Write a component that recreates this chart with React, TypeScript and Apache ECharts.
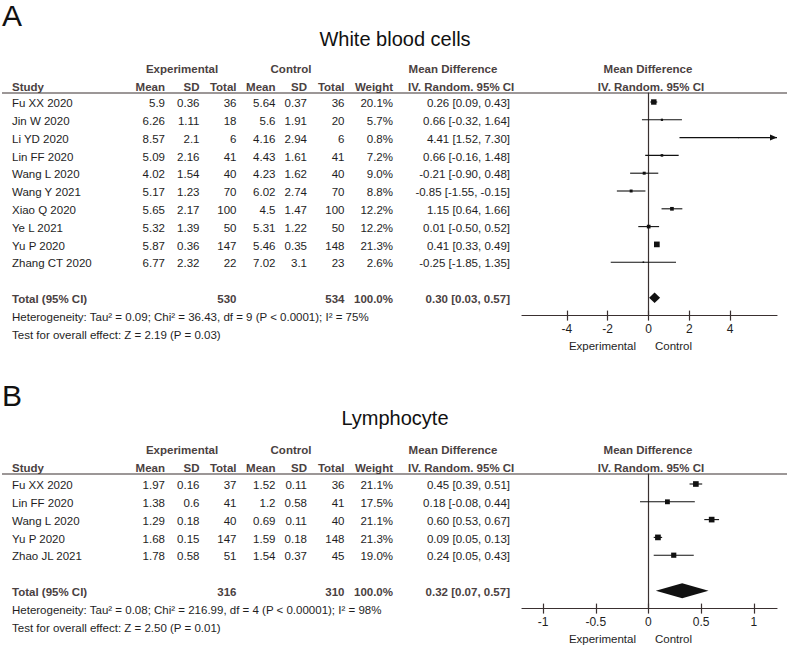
import React, { useEffect, useRef } from "react";
import * as echarts from "echarts";

// ---------- Data: panel A (White blood cells) ----------
const studiesA = ["Fu XX 2020", "Jin W 2020", "Li YD 2020", "Lin FF 2020", "Wang L 2020", "Wang Y 2021", "Xiao Q 2020", "Ye L 2021", "Yu P 2020", "Zhang CT 2020"];
const expMeanA = [5.9, 6.26, 8.57, 5.09, 4.02, 5.17, 5.65, 5.32, 5.87, 6.77];
const expSdA = [0.36, 1.11, 2.1, 2.16, 1.54, 1.23, 2.17, 1.39, 0.36, 2.32];
const expTotalA = [36, 18, 6, 41, 40, 70, 100, 50, 147, 22];
const ctlMeanA = [5.64, 5.6, 4.16, 4.43, 4.23, 6.02, 4.5, 5.31, 5.46, 7.02];
const ctlSdA = [0.37, 1.91, 2.94, 1.61, 1.62, 2.74, 1.47, 1.22, 0.35, 3.1];
const ctlTotalA = [36, 20, 6, 41, 40, 70, 100, 50, 148, 23];
const weightA = [20.1, 5.7, 0.8, 7.2, 9.0, 8.8, 12.2, 12.2, 21.3, 2.6];
const mdA = [0.26, 0.66, 4.41, 0.66, -0.21, -0.85, 1.15, 0.01, 0.41, -0.25];
const lowA = [0.09, -0.32, 1.52, -0.16, -0.9, -1.55, 0.64, -0.5, 0.33, -1.85];
const highA = [0.43, 1.64, 7.3, 1.48, 0.48, -0.15, 1.66, 0.52, 0.49, 1.35];
const pooledA = [0.3, 0.03, 0.57];
const ticksA = [-4, -2, 0, 2, 4];
const hetA = "Heterogeneity: Tau² = 0.09; Chi² = 36.43, df = 9 (P < 0.0001); I² = 75%";
const testA = "Test for overall effect: Z = 2.19 (P = 0.03)";

// ---------- Data: panel B (Lymphocyte) ----------
const studiesB = ["Fu XX 2020", "Lin FF 2020", "Wang L 2020", "Yu P 2020", "Zhao JL 2021"];
const expMeanB = [1.97, 1.38, 1.29, 1.68, 1.78];
const expSdB = [0.16, 0.6, 0.18, 0.15, 0.58];
const expTotalB = [37, 41, 40, 147, 51];
const ctlMeanB = [1.52, 1.2, 0.69, 1.59, 1.54];
const ctlSdB = [0.11, 0.58, 0.11, 0.18, 0.37];
const ctlTotalB = [36, 41, 40, 148, 45];
const weightB = [21.1, 17.5, 21.1, 21.3, 19.0];
const mdB = [0.45, 0.18, 0.6, 0.09, 0.24];
const lowB = [0.39, -0.08, 0.53, 0.05, 0.05];
const highB = [0.51, 0.44, 0.67, 0.13, 0.43];
const pooledB = [0.32, 0.07, 0.57];
const ticksB = [-1, -0.5, 0, 0.5, 1];
const hetB = "Heterogeneity: Tau² = 0.08; Chi² = 216.99, df = 4 (P < 0.00001); I² = 98%";
const testB = "Test for overall effect: Z = 2.50 (P = 0.01)";

// ---------- Layout / style ----------
const W = 789;
const H = 655;
const FONT = '"Liberation Sans", Arial, Helvetica, sans-serif';
const FS = 11.5;
const TEXT = "#1e1e1e";
const HEAD = "#4a4141";
const LINE = "#3a3030";
const MARK = "#111111";
const ROW_H = 17.8;
const PLOT_L = 522;
const PLOT_R = 777;
const COLS = [165, 199.5, 236.5, 275.5, 307, 344.5, 393];
const CI_R = 510;

const panels = [
  {
    letter: "A", letterY: 15, title: "White blood cells", titleY: 39,
    head1Y: 69, head2Y: 86.5, lineY: 93, base: 102,
    xMin: -6.2, xMax: 6.3, diamondHalf: 5.2,
    studies: studiesA, expMean: expMeanA, expSd: expSdA, expTotal: expTotalA,
    ctlMean: ctlMeanA, ctlSd: ctlSdA, ctlTotal: ctlTotalA, weight: weightA,
    md: mdA, low: lowA, high: highA, pooled: pooledA, ticks: ticksA, het: hetA, test: testA,
  },
  {
    letter: "B", letterY: 395, title: "Lymphocyte", titleY: 418,
    head1Y: 450, head2Y: 468, lineY: 474, base: 484,
    xMin: -1.2, xMax: 1.22, diamondHalf: 7.5,
    studies: studiesB, expMean: expMeanB, expSd: expSdB, expTotal: expTotalB,
    ctlMean: ctlMeanB, ctlSd: ctlSdB, ctlTotal: ctlTotalB, weight: weightB,
    md: mdB, low: lowB, high: highB, pooled: pooledB, ticks: ticksB, het: hetB, test: testB,
  },
];

function txt(text: string, x: number, y: number, o: any = {}) {
  return {
    type: "text",
    x,
    y,
    silent: true,
    style: {
      text,
      fill: o.fill || TEXT,
      fontSize: o.fontSize || FS,
      fontFamily: FONT,
      fontWeight: o.bold ? "bold" : "normal",
      align: o.align || "left",
      verticalAlign: "middle",
    },
  };
}

const sum = (a: number[]) => a.reduce((s, v) => s + v, 0);
const ci = (m: number, l: number, h: number) => `${m.toFixed(2)} [${l.toFixed(2)}, ${h.toFixed(2)}]`;

function buildOption() {
  const graphics: any[] = [];
  const grids: any[] = [];
  const xAxes: any[] = [];
  const yAxes: any[] = [];
  const series: any[] = [];

  panels.forEach((p, pi) => {
    const n = p.studies.length;
    const rowY = (i: number) => p.base + i * ROW_H + 1.2;
    const axisY = p.base + (n + 2) * ROW_H;

    // Panel letter and title
    graphics.push(txt(p.letter, 2, p.letterY, { fontSize: 30, fill: "#111" }));
    graphics.push(txt(p.title, 395, p.titleY, { fontSize: 20, fill: "#111", align: "center" }));

    // Headers
    graphics.push(txt("Experimental", 182, p.head1Y, { bold: true, fill: HEAD, align: "center" }));
    graphics.push(txt("Control", 291, p.head1Y, { bold: true, fill: HEAD, align: "center" }));
    graphics.push(txt("Mean Difference", 453, p.head1Y, { bold: true, fill: HEAD, align: "center" }));
    graphics.push(txt("Mean Difference", 648, p.head1Y, { bold: true, fill: HEAD, align: "center" }));
    graphics.push(txt("Study", 12, p.head2Y, { bold: true, fill: HEAD }));
    ["Mean", "SD", "Total", "Mean", "SD", "Total", "Weight"].forEach((h, ci2) =>
      graphics.push(txt(h, COLS[ci2], p.head2Y, { bold: true, fill: HEAD, align: "right" }))
    );
    graphics.push(txt("IV. Random. 95% CI", 408, p.head2Y, { bold: true, fill: HEAD }));
    graphics.push(txt("IV. Random. 95% CI", 651, p.head2Y, { bold: true, fill: HEAD, align: "center" }));
    graphics.push({
      type: "line",
      silent: true,
      shape: { x1: 2, y1: p.lineY, x2: 787, y2: p.lineY },
      style: { stroke: LINE, lineWidth: 1.2 },
    });

    // Study rows
    p.studies.forEach((s, i) => {
      const y = rowY(i);
      graphics.push(txt(s, 12, y));
      const vals = [
        String(p.expMean[i]), String(p.expSd[i]), String(p.expTotal[i]),
        String(p.ctlMean[i]), String(p.ctlSd[i]), String(p.ctlTotal[i]),
        p.weight[i].toFixed(1) + "%",
      ];
      vals.forEach((v, c) => graphics.push(txt(v, COLS[c], y, { align: "right" })));
      graphics.push(txt(ci(p.md[i], p.low[i], p.high[i]), CI_R, y, { align: "right" }));
    });

    // Total row
    const ty = rowY(n + 1);
    graphics.push(txt("Total (95% CI)", 12, ty, { bold: true, fill: HEAD }));
    graphics.push(txt(String(sum(p.expTotal)), COLS[2], ty, { bold: true, fill: HEAD, align: "right" }));
    graphics.push(txt(String(sum(p.ctlTotal)), COLS[5], ty, { bold: true, fill: HEAD, align: "right" }));
    graphics.push(txt("100.0%", COLS[6], ty, { bold: true, fill: HEAD, align: "right" }));
    graphics.push(txt(ci(p.pooled[0], p.pooled[1], p.pooled[2]), CI_R, ty, { bold: true, fill: HEAD, align: "right" }));
    graphics.push(txt(p.het, 12, rowY(n + 2)));
    graphics.push(txt(p.test, 12, rowY(n + 3)));

    // Favours labels
    graphics.push(txt("Experimental", 636, axisY + 30, { align: "right" }));
    graphics.push(txt("Control", 655, axisY + 30));

    // Grid
    grids.push({
      left: PLOT_L,
      width: PLOT_R - PLOT_L,
      top: p.lineY,
      height: axisY - p.lineY,
      containLabel: false,
    });
    const xCommon = {
      gridIndex: pi,
      type: "value",
      min: p.xMin,
      max: p.xMax,
      position: "bottom",
      splitLine: { show: false },
    };
    xAxes.push({
      ...xCommon,
      axisLine: { show: true, onZero: false, lineStyle: { color: LINE, width: 1.2 } },
      axisTick: { show: true, customValues: p.ticks, length: 5, lineStyle: { color: LINE, width: 1.2 } },
      axisLabel: {
        show: true, customValues: p.ticks, margin: 7, fontSize: 12, color: TEXT, fontFamily: FONT,
      },
    });
    xAxes.push({
      ...xCommon,
      axisLine: { show: false, onZero: false },
      axisTick: { show: true, inside: true, customValues: p.ticks, length: 5, lineStyle: { color: LINE, width: 1.2 } },
      axisLabel: { show: false, customValues: p.ticks },
    });
    yAxes.push({
      gridIndex: pi,
      type: "value",
      inverse: true,
      min: (p.lineY - p.base) / ROW_H,
      max: n + 2,
      axisLine: { show: true, onZero: true, onZeroAxisIndex: pi * 2, lineStyle: { color: LINE, width: 1.2 } },
      axisTick: { show: false },
      axisLabel: { show: false },
      splitLine: { show: false },
    });

    const xMin = p.xMin;
    const xMax = p.xMax;
    // Study estimates with CIs
    series.push({
      type: "custom",
      coordinateSystem: "cartesian2d",
      xAxisIndex: pi * 2,
      yAxisIndex: pi,
      encode: { x: [0, 1, 2], y: 3 },
      data: p.studies.map((_, i) => [p.md[i], p.low[i], p.high[i], i, p.weight[i]]),
      renderItem: (_params: any, api: any) => {
        const md = api.value(0);
        const lo = api.value(1);
        const hi = api.value(2);
        const row = api.value(3);
        const w = api.value(4);
        const a = api.coord([Math.max(lo, xMin), row]);
        const b = api.coord([Math.min(hi, xMax), row]);
        const c = api.coord([md, row]);
        const s = 1 + 0.22 * w;
        const children: any[] = [
          { type: "line", shape: { x1: a[0], y1: a[1], x2: b[0], y2: b[1] }, style: { stroke: MARK, lineWidth: 1.1 } },
          { type: "rect", shape: { x: c[0] - s / 2, y: c[1] - s / 2, width: s, height: s }, style: { fill: MARK } },
        ];
        if (hi > xMax) {
          children.push({
            type: "polygon",
            shape: { points: [[b[0], b[1]], [b[0] - 7, b[1] - 3], [b[0] - 7, b[1] + 3]] },
            style: { fill: MARK },
          });
        }
        if (lo < xMin) {
          children.push({
            type: "polygon",
            shape: { points: [[a[0], a[1]], [a[0] + 7, a[1] - 3], [a[0] + 7, a[1] + 3]] },
            style: { fill: MARK },
          });
        }
        return { type: "group", children };
      },
    });
    // Pooled diamond
    const dh = p.diamondHalf;
    series.push({
      type: "custom",
      coordinateSystem: "cartesian2d",
      xAxisIndex: pi * 2,
      yAxisIndex: pi,
      encode: { x: [0, 1, 2], y: 3 },
      data: [[p.pooled[0], p.pooled[1], p.pooled[2], n + 1]],
      renderItem: (_params: any, api: any) => {
        const m = api.coord([api.value(0), api.value(3)]);
        const l = api.coord([api.value(1), api.value(3)]);
        const h = api.coord([api.value(2), api.value(3)]);
        return {
          type: "polygon",
          shape: { points: [[l[0], l[1]], [m[0], m[1] - dh], [h[0], h[1]], [m[0], m[1] + dh]] },
          style: { fill: MARK },
        };
      },
    });
  });

  return {
    animation: false,
    backgroundColor: "#ffffff",
    grid: grids,
    xAxis: xAxes,
    yAxis: yAxes,
    series,
    graphic: graphics,
  };
}

export default function App() {
  const ref = useRef<HTMLDivElement>(null);
  useEffect(() => {
    if (!ref.current) return;
    const chart = echarts.init(ref.current, undefined, { renderer: "svg" });
    chart.setOption(buildOption() as any);
    return () => chart.dispose();
  }, []);
  return (
    <div
      ref={ref}
      style={{ position: "absolute", left: 0, top: 0, width: W, height: H, background: "#fff" }}
    />
  );
}
